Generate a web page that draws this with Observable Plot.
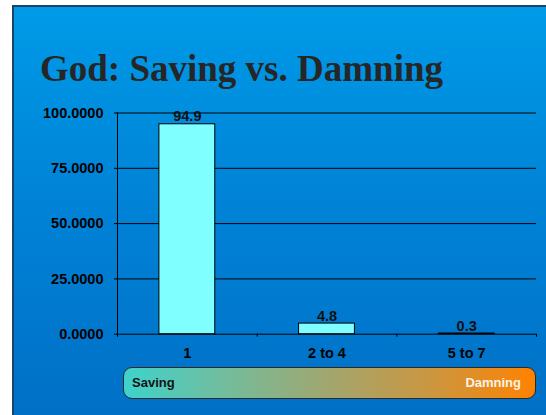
<!DOCTYPE html>
<html>
<head>
<meta charset="utf-8">
<script src="https://cdn.jsdelivr.net/npm/d3@7"></script>
<script src="https://cdn.jsdelivr.net/npm/@observablehq/plot@0.6"></script>
<style>
  html, body { margin: 0; padding: 0; background: #ffffff; }
  #page { position: relative; width: 546px; height: 415px; overflow: hidden; background: #ffffff; }
  #panel {
    position: absolute; left: 12px; top: 5px; right: 0; bottom: 0;
    background: linear-gradient(to bottom, #009be8 0%, #0084d8 45%, #0070c6 100%);
    border-top: 2px solid #1b4466; border-left: 2px solid #1b4466;
  }
  #title {
    position: absolute; left: 40px; top: 47px; margin: 0;
    font-family: "Liberation Serif", "Times New Roman", serif; font-weight: bold;
    font-size: 37px; line-height: 44px; color: #262626; white-space: nowrap;
  }
  #chart { position: absolute; left: 0; top: 90px; }
  #legend {
    position: absolute; left: 123px; top: 367px; width: 411px; height: 30px;
    border: 1px solid #2a2a2a; border-radius: 9px;
    background: linear-gradient(to right, #3ed2cc 0%, #74bc9c 25%, #a2a66e 50%, #cc9640 75%, #ff8200 100%);
    font-family: "Liberation Sans", Arial, sans-serif; font-weight: bold; font-size: 13px;
  }
  #legend .l { position: absolute; left: 8px; top: 7px; color: #141414; }
  #legend .r { position: absolute; right: 14px; top: 7px; color: #fbf3e6; }
</style>
</head>
<body>
<div id="page">
  <div id="panel"></div>
  <h1 id="title">God: Saving vs. Damning</h1>
  <div id="chart"></div>
  <div id="legend"><span class="l">Saving</span><span class="r">Damning</span></div>
</div>
<script>
const categories = ["1", "2 to 4", "5 to 7"];
const values = [94.9, 4.8, 0.3];
const yTicks = [0, 25, 50, 75, 100];

const data = categories.map((c, i) => ({category: c, index: i, value: values[i]}));

const plot = Plot.plot({
  width: 546,
  height: 280,
  marginTop: 22.5,
  marginBottom: 36.3,
  marginLeft: 117,
  marginRight: 10,
  style: {
    background: "transparent",
    fontFamily: "'Liberation Sans', Arial, sans-serif",
    fontWeight: "bold",
    fontSize: "14.5px",
    color: "#000"
  },
  x: {domain: [0, categories.length], axis: null},
  y: {domain: [0, 100], axis: null},
  marks: [
    Plot.ruleY(yTicks, {stroke: "#000", strokeWidth: 1}),
    Plot.axisY({
      ticks: yTicks, tickSize: 3, tickPadding: 11, label: null,
      tickFormat: d3.format(".4f"), fontSize: 14.5, fontWeight: "bold", stroke: "#000", fill: "#000"
    }),
    Plot.ruleX([0], {y1: 0, y2: 100, stroke: "#000"}),
    Plot.axisX({
      ticks: d3.range(categories.length + 1), tickSize: 3, tickFormat: () => "", label: null, stroke: "#000"
    }),
    Plot.axisX({
      ticks: categories.map((c, i) => i + 0.5), tickSize: 0, tickPadding: 14, label: null,
      tickFormat: (d) => categories[Math.floor(d)], fontSize: 14.5, fontWeight: "bold", fill: "#000"
    }),
    Plot.rectY(data, {
      x1: (d) => d.index + 0.3, x2: (d) => d.index + 0.7, y1: 0, y2: "value",
      fill: "#7fffff", stroke: "#000", strokeWidth: 1
    }),
    Plot.text(data, {
      x: (d) => d.index + 0.5, y: "value", text: (d) => d3.format(".1f")(d.value),
      lineAnchor: "bottom", dy: -3, fontSize: 14.5, fontWeight: "bold", fill: "#111"
    })
  ]
});
document.getElementById("chart").appendChild(plot);
</script>
</body>
</html>
